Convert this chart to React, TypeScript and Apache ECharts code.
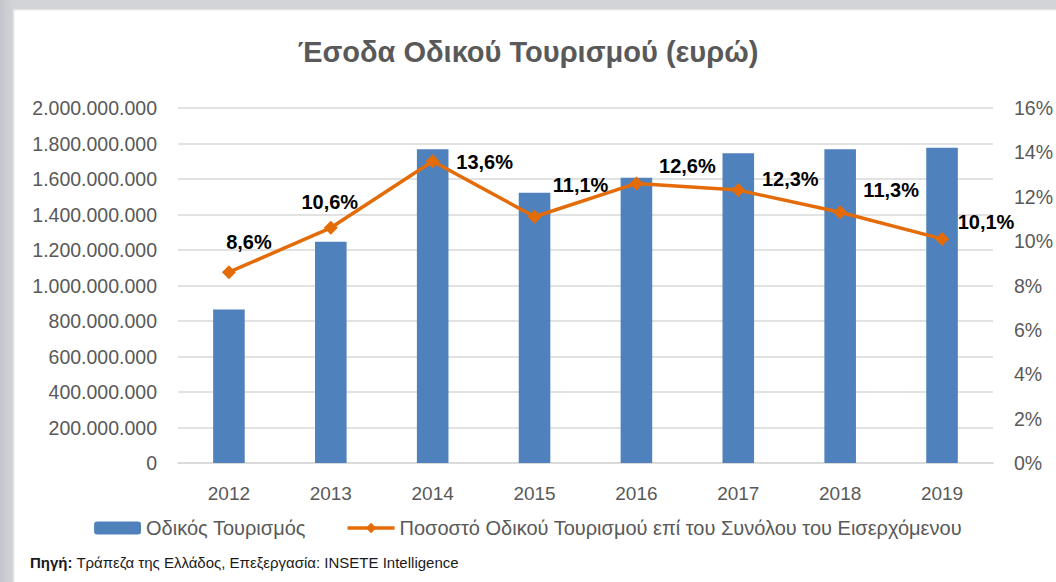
import React, { useEffect, useRef } from "react";
import * as echarts from "echarts";

const years = ["2012", "2013", "2014", "2015", "2016", "2017", "2018", "2019"];
const revenue = [865000000, 1246000000, 1767000000, 1522000000, 1607000000, 1745000000, 1767000000, 1776000000];
const sharePct = [8.6, 10.6, 13.6, 11.1, 12.6, 12.3, 11.3, 10.1];
const labelOffsets: [number, number][] = [[20, -30], [-1, -26], [52, 1], [46, -32], [51, -17], [52, -11], [51, -22], [44, -17]];

const fmtDots = (v: number) => String(Math.round(v)).replace(/\B(?=(\d{3})+(?!\d))/g, ".");
const fmtPct = (v: number) => v.toFixed(1).replace(".", ",") + "%";

const FONT = "Liberation Sans";

export default function App() {
  const ref = useRef<HTMLDivElement>(null);
  useEffect(() => {
    if (!ref.current) return;
    const chart = echarts.init(ref.current, null, { renderer: "svg" });
    chart.setOption({
      animation: false,
      backgroundColor: "#ffffff",
      textStyle: { fontFamily: FONT },
      title: {
        text: "Έσοδα Οδικού Τουρισμού (ευρώ)",
        left: "center",
        top: 32,
        textStyle: { fontFamily: FONT, fontSize: 29, fontWeight: "bold", color: "#595959" },
      },
      legend: {
        top: 513,
        left: "center",
        itemWidth: 47,
        itemHeight: 13,
        itemGap: 40,
        lineStyle: { width: 3.5 },
        textStyle: { fontFamily: FONT, fontSize: 20, color: "#595959" },
        data: ["Οδικός Τουρισμός", "Ποσοστό Οδικού Τουρισμού επί του Συνόλου του Εισερχόμενου"],
      },
      grid: { left: 178, right: 61, top: 108, bottom: 119, containLabel: false },
      xAxis: {
        type: "category",
        data: years,
        axisLine: { show: true, lineStyle: { color: "#d9d9d9", width: 1.5 } },
        axisTick: { show: false },
        axisLabel: { fontFamily: FONT, fontSize: 19, color: "#595959", margin: 21 },
      },
      yAxis: [
        {
          type: "value",
          min: 0,
          max: 2000000000,
          interval: 200000000,
          axisLine: { show: false },
          axisTick: { show: false },
          splitLine: { lineStyle: { color: "#d9d9d9", width: 1.5 } },
          axisLabel: { fontFamily: FONT, fontSize: 19.5, color: "#595959", margin: 21, formatter: (v: number) => fmtDots(v) },
        },
        {
          type: "value",
          min: 0,
          max: 16,
          interval: 2,
          position: "right",
          axisLine: { show: false },
          axisTick: { show: false },
          splitLine: { show: false },
          axisLabel: { fontFamily: FONT, fontSize: 19.5, color: "#595959", margin: 21, formatter: (v: number) => v + "%" },
        },
      ],
      series: [
        {
          name: "Οδικός Τουρισμός",
          type: "bar",
          data: revenue,
          barWidth: "31%",
          itemStyle: { color: "#4f81bd" },
        },
        {
          name: "Ποσοστό Οδικού Τουρισμού επί του Συνόλου του Εισερχόμενου",
          type: "line",
          yAxisIndex: 1,
          symbol: "diamond",
          symbolSize: 14,
          lineStyle: { color: "#e36c09", width: 3.5 },
          itemStyle: { color: "#e36c09" },
          data: sharePct.map((v, i) => ({
            value: v,
            label: { offset: labelOffsets[i] },
          })),
          label: {
            show: true,
            position: "inside",
            fontFamily: FONT,
            fontSize: 20,
            fontWeight: "bold",
            color: "#000000",
            formatter: (p: any) => fmtPct(p.value),
          },
          z: 5,
        },
      ],
      graphic: [
        {
          type: "rect",
          shape: { x: 0, y: 0, width: 13, height: 582 },
          style: {
            fill: new echarts.graphic.LinearGradient(0, 0, 1, 0, [
              { offset: 0, color: "#c4c5ca" },
              { offset: 1, color: "#d3d4d8" },
            ]),
          },
          silent: true,
        },
        {
          type: "rect",
          shape: { x: 13, y: 0, width: 1043, height: 9 },
          style: { fill: "#d3d4d8" },
          silent: true,
        },
        {
          type: "rect",
          shape: { x: 13, y: 9, width: 1043, height: 1.5 },
          style: { fill: "#e6e6e8" },
          silent: true,
        },
        {
          type: "rect",
          shape: { x: 13, y: 9, width: 1.5, height: 573 },
          style: { fill: "#e6e6e8" },
          silent: true,
        },
        {
          type: "text",
          x: 30,
          y: 562,
          style: {
            text: "{b|Πηγή:} Τράπεζα της Ελλάδος, Επεξεργασία: INSETE Intelligence",
            fontFamily: FONT,
            fontSize: 15,
            fill: "#1a1a1a",
            verticalAlign: "middle",
            rich: { b: { fontWeight: "bold", fontFamily: FONT, fontSize: 15, fill: "#1a1a1a" } },
          },
          silent: true,
        },
      ],
    });
    return () => chart.dispose();
  }, []);
  return (
    <div
      ref={ref}
      style={{ position: "fixed", left: 0, top: 0, width: 1056, height: 582 }}
    />
  );
}
